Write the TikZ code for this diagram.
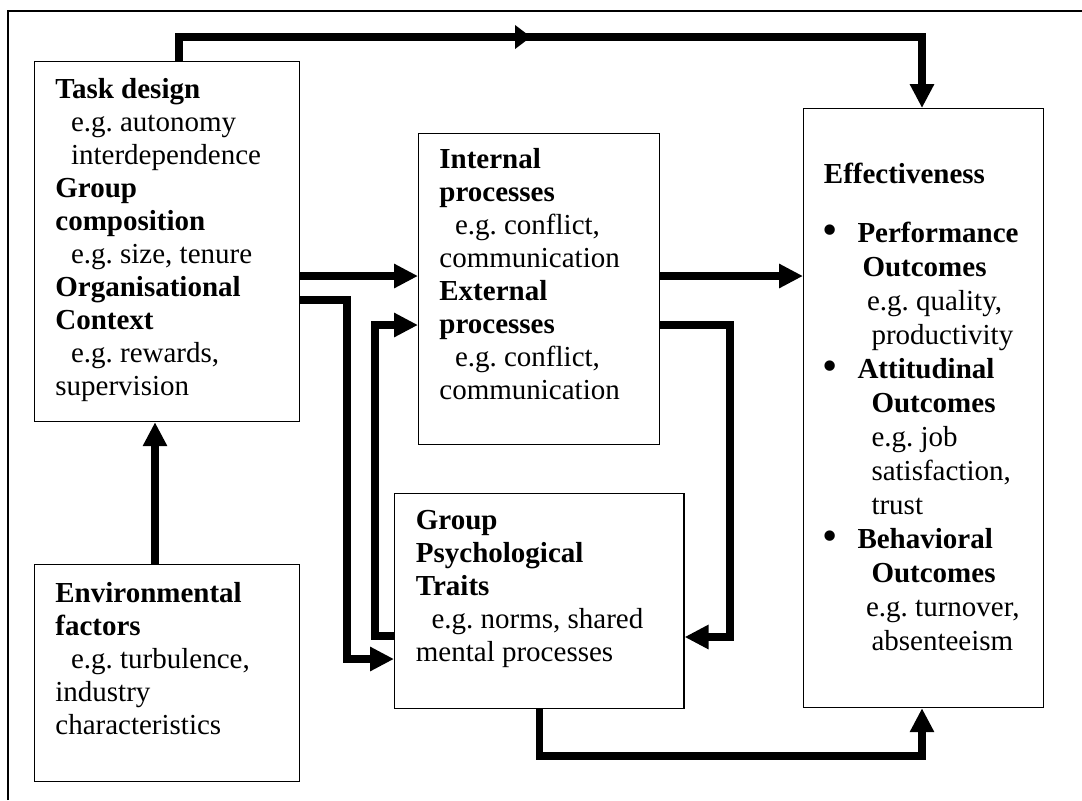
\documentclass[tikz,border=0pt]{standalone}
\usepackage{fontspec}
\usepackage{graphicx}
\setmainfont{Liberation Serif}
\usetikzlibrary{arrows.meta,calc}
\frenchspacing
\newcommand{\egsp}{\hspace*{7.8pt}}
\newcommand{\bul}{\makebox[16.8pt][l]{\hspace*{-0.8pt}\raisebox{-1pt}{\scalebox{1.5}{\textbullet}}}}

\begin{document}
\begin{tikzpicture}[x=0.5pt,y=-0.5pt]
\tikzset{box/.style = {shape=rectangle,draw,line width=0.6pt,anchor=north west,inner sep=0pt}}
\tikzset{txt/.style = {anchor=north west,align=left,inner sep=0pt,font=\fontsize{14.5pt}{16.5pt}\selectfont}}
\tikzset{edge/.style = {->,> = {Triangle[length=12pt,width=11.5pt]},line width=3.6pt}}
\tikzset{midedge/.style = {->,> = {Triangle[length=8pt,width=11.5pt]},line width=3.6pt}}
\useasboundingbox (0,0) rectangle (1082,800);
\draw[line width=0.6pt] (8,800) -- (8,11) -- (1082,11);
% boxes
\node[box,minimum width=132.25pt,minimum height=180pt]  (task)  at (34,61)   {};
\node[box,minimum width=132.25pt,minimum height=108.5pt] (env)  at (34,564)  {};
\node[box,minimum width=120.5pt,minimum height=155.5pt] (proc)  at (418,133) {};
\node[box,minimum width=144.7pt,minimum height=107.5pt] (psych) at (394,493) {};
\node[box,minimum width=120pt,minimum height=299.5pt]   (eff)   at (803,108) {};
% texts
\node[txt] (tasktext) at (55,78) {\textbf{Task design}\\
  \egsp e.g. autonomy\\ \egsp interdependence\\
  \textbf{Group}\\ \textbf{composition}\\ \egsp e.g. size, tenure\\
  \textbf{Organisational}\\ \textbf{Context}\\ \egsp e.g. rewards,\\ supervision};
\node[txt] (envtext) at (55,582) {\textbf{Environmental}\\ \textbf{factors}\\
  \egsp e.g. turbulence,\\ industry\\ characteristics};
\node[txt] (proctext) at (439,148) {\textbf{Internal}\\ \textbf{processes}\\
  \egsp e.g. conflict,\\ communication\\
  \textbf{External}\\ \textbf{processes}\\
  \egsp e.g. conflict,\\ communication};
\node[txt] (psychtext) at (415.5,510) {\textbf{Group}\\ \textbf{Psychological}\\
  \textbf{Traits}\\ \egsp e.g. norms, shared\\ mental processes};
\node[txt,font=\fontsize{14.5pt}{17pt}\selectfont] (efftext) at (823.5,163) {\textbf{Effectiveness}\\[12.5pt]
  \bul\textbf{Performance}\\ \hspace*{19.3pt}\textbf{Outcomes}\\
  \hspace*{21.6pt}e.g. quality,\\ \hspace*{23.8pt}productivity\\
  \bul\textbf{Attitudinal}\\ \hspace*{23.8pt}\textbf{Outcomes}\\
  \hspace*{23.8pt}e.g. job\\ \hspace*{23.8pt}satisfaction,\\ \hspace*{23.8pt}trust\\
  \bul\textbf{Behavioral}\\ \hspace*{23.8pt}\textbf{Outcomes}\\
  \hspace*{21.1pt}e.g. turnover,\\ \hspace*{23.8pt}absenteeism};
%edges
\coordinate (topmid) at (531,37);
\coordinate (topbase) at (515,37);
\draw[midedge] ($(task.north west)+(145,0)$) |- (topmid);
\draw[edge] (topbase) -| ($(eff.north west)+(119,0)$);
\draw[edge] ($(env.north west)+(121,0)$) -- ($(task.south west)+(121,0)$);
\draw[edge] ($(task.north east)+(0,215)$) -- ($(proc.north west)+(0,143)$);
\draw[edge] ($(task.north east)+(0,239)$) -| (347,659) -- ($(psych.north west)+(0,166)$);
\draw[edge] ($(psych.north west)+(0,143)$) -| (375,325) -- ($(proc.north west)+(0,192)$);
\draw[edge] ($(proc.north east)+(0,143)$) -- ($(eff.north west)+(0,168)$);
\draw[edge] ($(proc.north east)+(0,192)$) -| (730,637) -- ($(psych.north east)+(0,144)$);
\draw[edge] (psych.south) |- (922,756) -- ($(eff.south west)+(119,0)$);
\end{tikzpicture}
\end{document}
